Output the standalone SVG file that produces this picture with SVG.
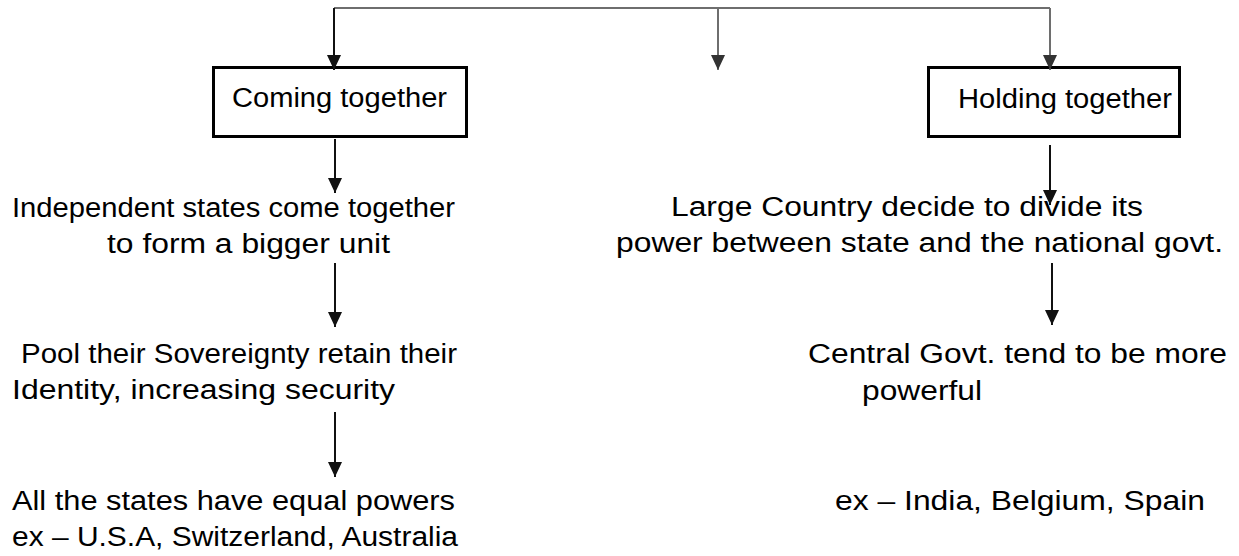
<svg xmlns="http://www.w3.org/2000/svg" width="1239" height="556" viewBox="0 0 1239 556">
<defs>
<marker id="ah" markerUnits="userSpaceOnUse" markerWidth="14" markerHeight="15" refX="15" refY="7" orient="auto"><path d="M0,0 L15,7 L0,14 Z" fill="#111"/></marker>
<marker id="ahg" markerUnits="userSpaceOnUse" markerWidth="14" markerHeight="15" refX="15" refY="7" orient="auto"><path d="M0,0 L15,7 L0,14 Z" fill="#333"/></marker>
</defs>
<style>
.t{font-family:"Liberation Sans",Arial,sans-serif;font-size:27px;fill:#000}
.c{fill:none;stroke:#111;stroke-width:2}
.g{stroke:#6e6e6e}
.box{fill:#fff;stroke:#000;stroke-width:3}
</style>
<rect width="1239" height="556" fill="#fff"/>
<g id="nodes">
<g id="coming-together">
<rect class="box" x="213.5" y="67.5" width="253" height="69"/>
<text class="t" x="232" y="107" textLength="215" lengthAdjust="spacingAndGlyphs">Coming together</text>
</g>
<g id="holding-together">
<rect class="box" x="928.5" y="67.5" width="251" height="69"/>
<text class="t" x="958" y="108" textLength="214" lengthAdjust="spacingAndGlyphs">Holding together</text>
</g>
<g id="left-1">
<text class="t" x="12" y="217" textLength="443" lengthAdjust="spacingAndGlyphs">Independent states come together</text>
<text class="t" x="107" y="253" textLength="283" lengthAdjust="spacingAndGlyphs">to form a bigger unit</text>
</g>
<g id="left-2">
<text class="t" x="21" y="363" textLength="436" lengthAdjust="spacingAndGlyphs">Pool their Sovereignty retain their</text>
<text class="t" x="12" y="399" textLength="383" lengthAdjust="spacingAndGlyphs">Identity, increasing security</text>
</g>
<g id="left-3">
<text class="t" x="12" y="510" textLength="443" lengthAdjust="spacingAndGlyphs">All the states have equal powers</text>
<text class="t" x="12" y="546" textLength="446" lengthAdjust="spacingAndGlyphs">ex – U.S.A, Switzerland, Australia</text>
</g>
<g id="right-1">
<text class="t" x="671" y="216" textLength="472" lengthAdjust="spacingAndGlyphs">Large Country decide to divide its</text>
<text class="t" x="616" y="252" textLength="607" lengthAdjust="spacingAndGlyphs">power between state and the national govt.</text>
</g>
<g id="right-2">
<text class="t" x="808" y="363" textLength="419" lengthAdjust="spacingAndGlyphs">Central Govt. tend to be more</text>
<text class="t" x="862" y="400" textLength="120" lengthAdjust="spacingAndGlyphs">powerful</text>
</g>
<g id="right-3">
<text class="t" x="835" y="510" textLength="370" lengthAdjust="spacingAndGlyphs">ex – India, Belgium, Spain</text>
</g>
</g>
<g id="connectors">
<path class="c g" d="M334,8 H1050" stroke-width="2.5"/>
<path class="c" d="M334,8 V70" marker-end="url(#ah)"/>
<path class="c g" d="M718,8 V70" marker-end="url(#ahg)"/>
<path class="c g" d="M1050,8 V70" marker-end="url(#ahg)"/>
<path class="c" d="M335,139 V193" marker-end="url(#ah)"/>
<path class="c" d="M335,263 V327" marker-end="url(#ah)"/>
<path class="c" d="M335,412 V477" marker-end="url(#ah)"/>
<path class="c" d="M1050,145 V205" marker-end="url(#ah)"/>
<path class="c" d="M1052,263 V325" marker-end="url(#ah)"/>
</g>
</svg>
